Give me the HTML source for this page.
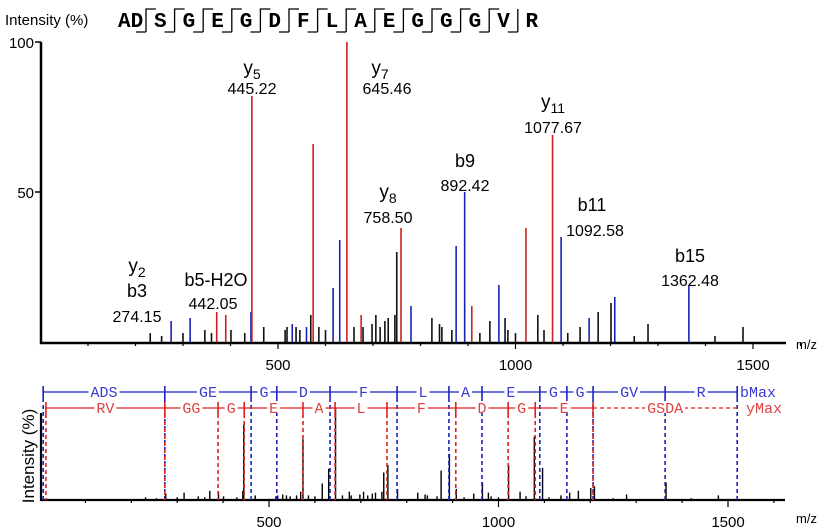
<!DOCTYPE html>
<html><head><meta charset="utf-8"><style>
body{margin:0;background:#fff;}
svg{display:block;font-family:"Liberation Sans",sans-serif;}
</style></head><body>
<svg id="chart" width="827" height="532" viewBox="0 0 827 532"></svg>
<script>
// ---- data ----
const peptideLetters = ["S","G","E","G","D","F","L","A","E","G","G","G","V"];
const redMz = [445,574,645,759,371,390,1022,1078,908,675];
const redInt = [82,66,100,38,10,9,38,69,12,9];
const blueMz = [443,630,616,780,875,893,965,1096,1209,1155,1365,275,315,530,560];
const blueInt = [10,34,18,12,32,50,19,35,15,8,19,7,8,6,5];
const blackMz = [750,732,725,706,824,946,1047,1174,1201,1279,1479,569,586,519,470,231,346,401,845,866,925,984,1136,978,515,546,538,679,698,715,746,255,300,360,430,600,660,840,1000,1060,1110,1250,1420];
const blackInt = [30,8,7,9,8,7,9,10,13,6,5,9,5,5,5,3,4,4,5,4,3,4,5,8,4,4,5,5,6,5,9,2,3,3,3,4,5,6,3,4,3,2,2];
const bMz = [8,273,461,517,633,779,892,964,1090,1149,1206,1363,1520];
const bLabels = ["ADS","GE","G","D","F","L","A","E","G","G","GV","R"];
const yMz = [14,273,389,446,574,644,757,907,1021,1080,1206];
const yLabels = ["RV","GG","G","E","A","L","F","D","G","E"];
const xTicks = [500,1000,1500];
const yTicks = [50,100];

const NS="http://www.w3.org/2000/svg";
const svg=document.getElementById('chart');
function el(tag,attrs,parent){const e=document.createElementNS(NS,tag);for(const k in attrs)e.setAttribute(k,attrs[k]);(parent||svg).appendChild(e);return e;}
function txt(x,y,s,size,anchor,fill,fam){const t=el('text',{x:x,y:y,'font-size':size,'text-anchor':anchor||'middle',fill:fill||'#000'});if(fam)t.setAttribute('font-family',fam);t.textContent=s;return t;}

const tx=m=>40.5+m*0.475, ty=v=>342-v*3;
const bx=m=>39.5+m*0.459, by=v=>500-v*0.92;

let t=txt(5,25,"Intensity (%)",15,'start');


t=txt(118,27,"AD",21,'start','#000','"Liberation Mono",monospace');
t.setAttribute('font-weight','bold');


for(let i=0;i<peptideLetters.length;i++){
  const x0=146+i*28.6;
  const l=el('path',{d:`M${x0} 32 V9 H${x0+10} M${x0} 32 H${x0-10}`,stroke:'#000','stroke-width':1.3,fill:'none'});
  
  
  const c=txt(x0+14.3,27,peptideLetters[i],21,'middle','#000','"Liberation Mono",monospace');
  c.setAttribute('font-weight','bold');
  
  
}
{const x0=146+13*28.6;
const l=el('path',{d:`M${x0} 32 V9 M${x0} 32 H${x0-10}`,stroke:'#000','stroke-width':1.3,fill:'none'});


t=txt(x0+14,27,"R",21,'middle','#000','"Liberation Mono",monospace');t.setAttribute('font-weight','bold');

}

let a=el('path',{d:`M41 42 V343 H786`,stroke:'#000','stroke-width':2.5,fill:'none'});


yTicks.forEach(v=>{const k=el('line',{x1:35,x2:41,y1:ty(v),y2:ty(v),stroke:'#000','stroke-width':1.5});


const l=txt(34,ty(v)+6,String(v),15,'end');

});
for(let m=100;m<=1600;m+=100){const k=el('line',{x1:tx(m),x2:tx(m),y1:343,y2:m%500?346:349,stroke:'#000','stroke-width':1.2});

}
xTicks.forEach(m=>{const l=txt(tx(m),370,String(m),15);

});
t=txt(796,349,"m/z",13,'start');



function peaks(mzs,ints,color,name){
  mzs.forEach((m,i)=>{
    const p=el('line',{x1:tx(m),x2:tx(m),y1:342,y2:ty(ints[i]),stroke:color,'stroke-width':1.6});
    
    
  });
}
peaks(blackMz,blackInt,'#111','unassigned-peak');
peaks(blueMz,blueInt,'#1b22b4','b-ion-peak');
peaks(redMz,redInt,'#cc2020','y-ion-peak');

const ann=[[252,74,"y","5"],[380,74,"y","7"],[553,108,"y","11"],[388,198,"y","8"],[137,272,"y","2"]];
ann.forEach(a=>{const g=txt(a[0],a[1],a[2],19);const s=el('tspan',{'font-size':14,dy:5});s.textContent=a[3];g.appendChild(s);

});
const ann2=[[252,94,"445.22"],[387,94,"645.46"],[553,133,"1077.67"],[465,191,"892.42"],[388,223,"758.50"],[595,236,"1092.58"],[690,286,"1362.48"],[137,322,"274.15"],[213,309,"442.05"],[465,167,"b9"],[592,211,"b11"],[690,262,"b15"],[137,297,"b3"],[216,286,"b5-H2O"]];
ann2.forEach(a=>{const g=txt(a[0],a[1],a[2],a[2][0]==='b'?18:16);

});

t=txt(0,0,"Intensity (%)",17);
t.setAttribute('transform','translate(34,456) rotate(-90)');


a=el('path',{d:`M41 413 V500 H785`,stroke:'#000','stroke-width':2.2,fill:'none'});


for(let m=100;m<=1600;m+=100){const k=el('line',{x1:bx(m),x2:bx(m),y1:500,y2:m%500?503:507,stroke:'#000','stroke-width':1.2});

}
xTicks.forEach(m=>{const l=txt(bx(m),527,String(m),15);

});
t=txt(796,523,"m/z",13,'start');



const allMz=blackMz.concat(blueMz,redMz), allInt=blackInt.concat(blueInt,redInt);
allMz.forEach((m,i)=>{const p=el('line',{x1:bx(m),x2:bx(m),y1:500,y2:by(allInt[i]),stroke:'#000','stroke-width':1.4});

});

const mono='"Liberation Mono",monospace';
const dash='12 0 4 3 4 3 4 3 4 3 4 3 4 3 4 3 4 3 4 3 4 3 4 3 4 3 4 3 4 3 4 3 4 3 4 3 4 3 4 3';
let ln=el('line',{x1:bx(bMz[0]),x2:bx(bMz[bMz.length-1]),y1:392,y2:392,stroke:'#1b22c4','stroke-width':1.3});


bMz.forEach(m=>{const d=el('line',{x1:bx(m),x2:bx(m),y1:386,y2:500,stroke:'#1b22c4','stroke-width':1.6});
d.setAttribute('stroke-dasharray',dash);

});
bLabels.forEach((s,i)=>{const cx=(bx(bMz[i])+bx(bMz[i+1]))/2;
const r=el('rect',{x:cx-s.length*4.5-2,y:385,width:s.length*9+4,height:12,fill:'#fff'});


const l=txt(cx,397,s,15,'middle','#3a3ad0',mono);

});
t=txt(740,397,"bMax",15,'start','#3a3ad0',mono);



ln=el('line',{x1:bx(yMz[0]),x2:bx(yMz[yMz.length-1]),y1:408,y2:408,stroke:'#e02020','stroke-width':1.3});


ln=el('line',{x1:bx(yMz[yMz.length-1]),x2:bx(bMz[bMz.length-1]),y1:408,y2:408,stroke:'#e02020','stroke-width':1.3,'stroke-dasharray':'4 3'});


yMz.forEach(m=>{const d=el('line',{x1:bx(m),x2:bx(m),y1:402,y2:500,stroke:'#e02020','stroke-width':1.6});
d.setAttribute('stroke-dasharray',dash);

});
yLabels.forEach((s,i)=>{if(i+1>=yMz.length)return;const cx=(bx(yMz[i])+bx(yMz[i+1]))/2;
const r=el('rect',{x:cx-s.length*4.5-2,y:401,width:s.length*9+4,height:12,fill:'#fff'});


const l=txt(cx,413,s,15,'middle','#e04040',mono);

});
{const cx=(bx(yMz[yMz.length-1])+bx(bMz[bMz.length-1]))/2;
const r=el('rect',{x:cx-20,y:401,width:40,height:12,fill:'#fff'});


t=txt(cx,413,"GSDA",15,'middle','#e04040',mono);

}
t=txt(746,413,"yMax",15,'start','#e04040',mono);


</script>
</body></html>
